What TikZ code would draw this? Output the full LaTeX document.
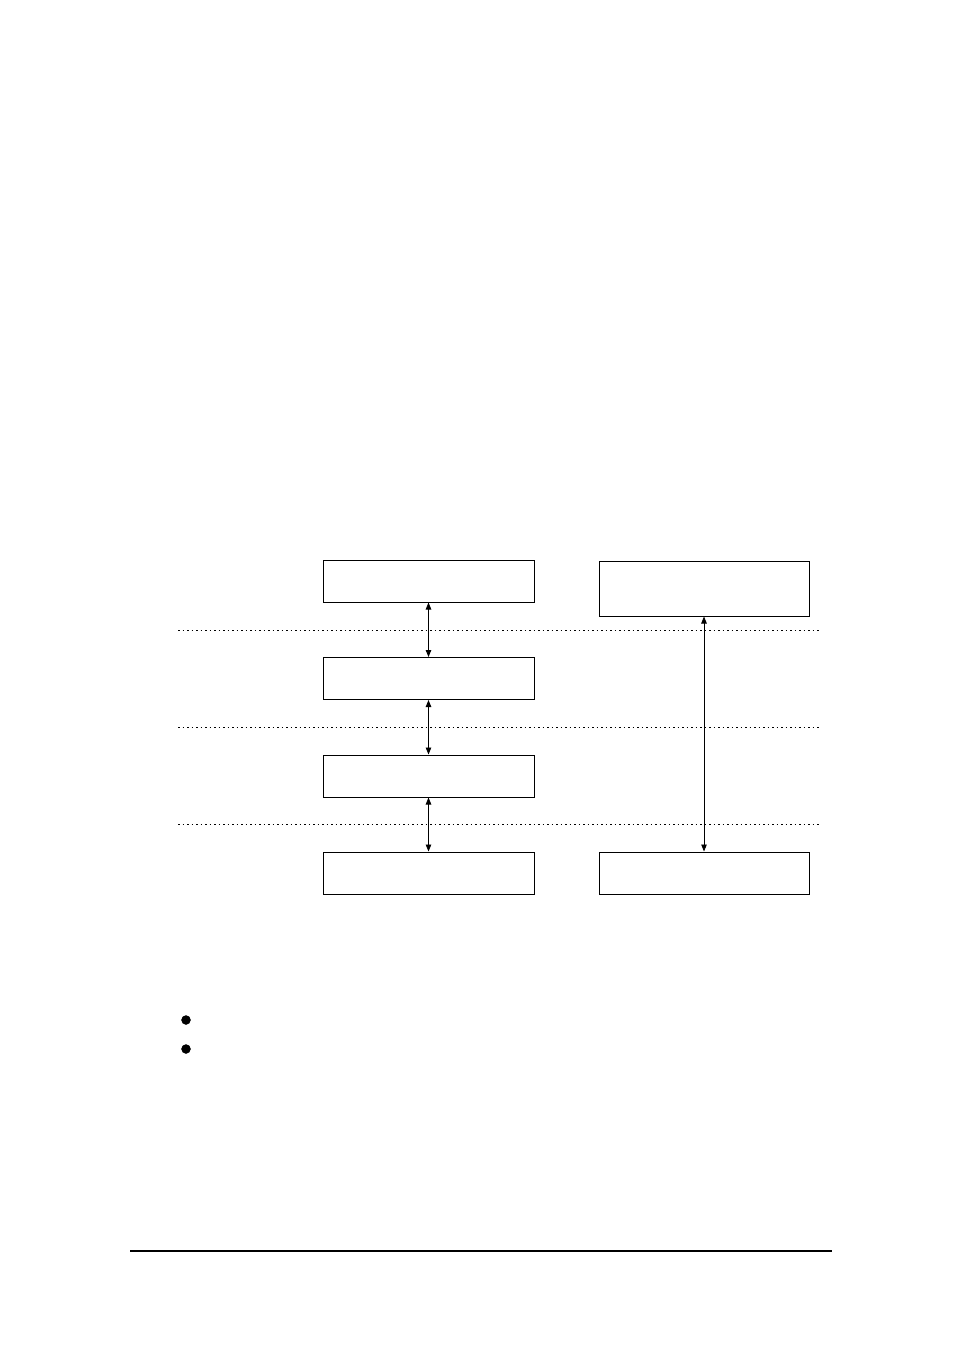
\documentclass[tikz,border=0pt]{standalone}
\usetikzlibrary{arrows.meta}
\tikzset{
  layerbox/.style={draw,line width=1pt,inner sep=0pt,minimum width=211pt,minimum height=42pt},
  sepline/.style={line width=1pt,dash pattern=on 1.5pt off 3pt},
  link/.style={{Triangle[length=7pt,width=5.5pt]}-{Triangle[length=7pt,width=5.5pt]},line width=0.9pt}
}
\begin{document}
\begin{tikzpicture}[x=1pt,y=-1pt]
    \useasboundingbox (0,0) rectangle (954,1351);
    \node[layerbox] (app) at (428.5,581) {};
    \node[layerbox] (mid) at (428.5,678.5) {};
    \node[layerbox] (low) at (428.5,776) {};
    \node[layerbox] (phy) at (428.5,873) {};
    \node[layerbox,minimum height=55pt,minimum width=210pt] (peer) at (704,588.5) {};
    \node[layerbox,minimum width=210pt] (peerphy) at (704,873) {};
    \foreach \y in {630,727,824}
    \draw[sepline] (178,\y)--(820,\y);
    \draw [link] (app)--(mid);
    \draw [link] (mid)--(low);
    \draw [link] (low)--(phy);
    \draw [link] (peer)--(peerphy);
    \foreach \y in {1020,1049}
    \filldraw (186,\y) circle [radius=4.5pt];
    \draw [line width=1.6pt] (130,1251)--(832,1251);
\end{tikzpicture}
\end{document}
